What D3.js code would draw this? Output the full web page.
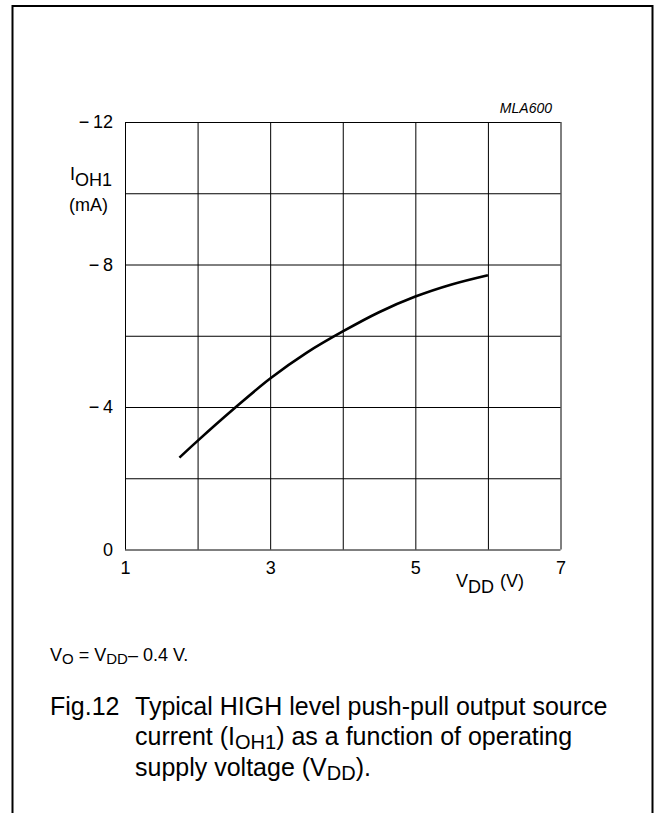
<!DOCTYPE html>
<html>
<head>
<meta charset="utf-8">
<script src="https://cdn.jsdelivr.net/npm/d3@7"></script>
<style>
  body { margin: 0; background: #fff; }
  svg { display: block; font-family: "Liberation Sans", Arial, sans-serif; }
</style>
</head>
<body>
<div id="chart"></div>
<script>
// data (VDD in V, IOH1 in mA)
var vdd = [1.75, 2, 2.5, 3, 3.5, 4, 4.5, 5, 5.5, 6];
var ioh = [-2.58, -3.05, -3.95, -4.80, -5.52, -6.12, -6.66, -7.10, -7.44, -7.70];

// axes
var xGrid = [1, 2, 3, 4, 5, 6, 7];
var xLabels = [1, 3, 5, 7];
var yGrid = [0, -2, -4, -6, -8, -10, -12];
var yLabels = [0, -4, -8, -12];

var width = 655, height = 813;
var plotLeft = 125, plotRight = 560.5, plotTop = 122, plotBottom = 549.5;

var svg = d3.select("#chart").append("svg")
  .attr("width", width)
  .attr("height", height);

// outer frame (open at the bottom)
svg.append("path")
  .attr("d", "M12.5," + height + "V6H652.5V" + height)
  .attr("fill", "none")
  .attr("stroke", "#000")
  .attr("stroke-width", 2);

var x = d3.scaleLinear().domain([1, 7]).range([plotLeft, plotRight]);
var y = d3.scaleLinear().domain([0, -12]).range([plotBottom, plotTop]);

// grid lines
var g = svg.append("g");
g.append("g")
  .attr("transform", "translate(0," + plotBottom + ")")
  .call(d3.axisBottom(x).tickValues(xGrid).tickSize(-(plotBottom - plotTop)).tickFormat(""))
  .call(function(a){ a.select(".domain").remove(); })
  .selectAll("line").attr("stroke", "#000").attr("stroke-width", 1);
g.append("g")
  .attr("transform", "translate(" + plotLeft + ",0)")
  .call(d3.axisLeft(y).tickValues(yGrid).tickSize(-(plotRight - plotLeft)).tickFormat(""))
  .call(function(a){ a.select(".domain").remove(); })
  .selectAll("line").attr("stroke", "#000").attr("stroke-width", 1);

// tick labels
svg.append("g")
  .attr("transform", "translate(0," + plotBottom + ")")
  .call(d3.axisBottom(x).tickValues(xLabels).tickSize(0).tickPadding(12)
    .tickFormat(d3.format("d")))
  .call(function(a){ a.select(".domain").remove(); })
  .selectAll("text")
  .attr("font-size", 18)
  .attr("font-family", "Liberation Sans, Arial, sans-serif")
  .attr("fill", "#000");

svg.append("g")
  .attr("transform", "translate(" + plotLeft + ",0)")
  .call(d3.axisLeft(y).tickValues(yLabels).tickSize(0).tickPadding(12)
    .tickFormat(function(d){ return d === 0 ? "0" : "\u2212\u2009" + Math.abs(d); }))
  .call(function(a){ a.select(".domain").remove(); })
  .selectAll("text")
  .attr("font-size", 18)
  .attr("font-family", "Liberation Sans, Arial, sans-serif")
  .attr("fill", "#000");

// curve
var pts = vdd.map(function(v, i){ return [v, ioh[i]]; });
svg.append("path")
  .datum(pts)
  .attr("fill", "none")
  .attr("stroke", "#000")
  .attr("stroke-width", 2.6)
  .attr("d", d3.line()
    .x(function(d){ return x(d[0]); })
    .y(function(d){ return y(d[1]); })
    .curve(d3.curveCatmullRom.alpha(0.5)));

// axis titles
var yl = svg.append("text").attr("x", 70).attr("y", 180).attr("font-size", 18);
yl.append("tspan").text("I");
yl.append("tspan").attr("dy", 6).text("OH1");
svg.append("text").attr("x", 69).attr("y", 211).attr("font-size", 18).text("(mA)");

var xl = svg.append("text").attr("x", 456).attr("y", 587).attr("font-size", 18);
xl.append("tspan").text("V");
xl.append("tspan").attr("dy", 6).text("DD");
xl.append("tspan").attr("dy", -6).attr("dx", 1).text(" (V)");

svg.append("text")
  .attr("x", 552).attr("y", 113)
  .attr("text-anchor", "end")
  .attr("font-size", 14)
  .attr("font-style", "italic")
  .text("MLA600");

// footnote
var fn = svg.append("text").attr("x", 50).attr("y", 661).attr("font-size", 18);
fn.append("tspan").text("V");
fn.append("tspan").attr("dy", 3).attr("font-size", 15).text("O");
fn.append("tspan").attr("dy", -3).text(" = V");
fn.append("tspan").attr("dy", 3).attr("font-size", 15).text("DD");
fn.append("tspan").attr("dy", -3).text("\u2013 0.4 V.");

// caption
var cap = svg.append("g").attr("font-size", 25);
cap.append("text").attr("x", 50).attr("y", 715).text("Fig.12");
cap.append("text").attr("x", 135).attr("y", 715).text("Typical HIGH level push-pull output source");
var c2 = cap.append("text").attr("x", 135).attr("y", 745);
c2.append("tspan").text("current (I");
c2.append("tspan").attr("dy", 4).attr("font-size", 20).text("OH1");
c2.append("tspan").attr("dy", -4).text(") as a function of operating");
var c3 = cap.append("text").attr("x", 135).attr("y", 776);
c3.append("tspan").text("supply voltage (V");
c3.append("tspan").attr("dy", 4).attr("font-size", 20).text("DD");
c3.append("tspan").attr("dy", -4).text(").");
</script>
</body>
</html>
